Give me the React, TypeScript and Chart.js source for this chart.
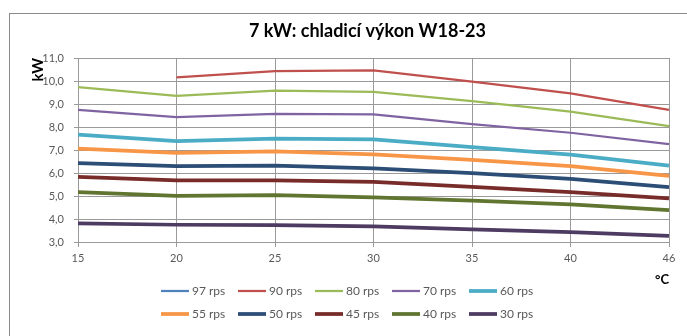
import React, { useEffect, useRef } from 'react';
import { Chart, registerables } from 'chart.js';

Chart.register(...registerables);

// ---- data ----
const categories = ['15', '20', '25', '30', '35', '40', '46'];
const seriesLabels = ['97 rps', '90 rps', '80 rps', '70 rps', '60 rps', '55 rps', '50 rps', '45 rps', '40 rps', '30 rps'];
const rps97: (number | null)[] = [null, null, null, null, null, null, null];
const rps90: (number | null)[] = [null, 10.16, 10.43, 10.46, 9.97, 9.46, 8.74];
const rps80 = [9.73, 9.35, 9.58, 9.53, 9.13, 8.67, 8.04];
const rps70 = [8.74, 8.43, 8.57, 8.55, 8.13, 7.75, 7.26];
const rps60 = [7.67, 7.39, 7.49, 7.46, 7.12, 6.8, 6.32];
const rps55 = [7.06, 6.88, 6.94, 6.81, 6.57, 6.3, 5.88];
const rps50 = [6.43, 6.3, 6.32, 6.2, 5.99, 5.74, 5.39];
const rps45 = [5.83, 5.68, 5.68, 5.61, 5.4, 5.17, 4.9];
const rps40 = [5.17, 5.01, 5.04, 4.94, 4.8, 4.64, 4.39];
const rps30 = [3.81, 3.75, 3.73, 3.68, 3.55, 3.43, 3.27];
const yMin = 3;
const yMax = 11;
const yStep = 1;
const titleText = '7 kW: chladicí výkon W18-23';
const yTitle = 'kW';
const xTitle = '°C';

// ---- styles ----
const seriesValues = [rps97, rps90, rps80, rps70, rps60, rps55, rps50, rps45, rps40, rps30];
const seriesColors = ['#4F81BD', '#C0504D', '#9BBB59', '#8064A2', '#4BACC6', '#F79646', '#2C4D75', '#772C2A', '#5F7530', '#4D3B62'];
const seriesWidths = [2.25, 2.25, 2.25, 2.25, 3.75, 3.75, 3.75, 3.75, 3.75, 3.75];
const FONT = 'Lato, "Open Sans", sans-serif';
const GRID = '#9a9a9a';
const TICK = '#595959';

const framePlugin = {
  id: 'frame',
  beforeDraw(chart: any) {
    const ctx = chart.ctx;
    ctx.save();
    ctx.fillStyle = '#ffffff';
    ctx.fillRect(0, 0, chart.width, chart.height);
    ctx.strokeStyle = '#8a8a8a';
    ctx.lineWidth = 1;
    ctx.strokeRect(9.5, 13.5, chart.width + 50, chart.height + 50);
    ctx.restore();
  },
};

const titleShiftPlugin = {
  id: 'titleShift',
  afterLayout(chart: any) {
    const t = chart.titleBlock;
    if (t) {
      t.left += 28;
      t.right += 28;
    }
  },
};

const rowLegendPlugin = {
  id: 'rowLegend',
  afterDraw(chart: any) {
    const ctx = chart.ctx;
    ctx.save();
    ctx.font = '12px ' + FONT;
    ctx.textBaseline = 'middle';
    ctx.textAlign = 'left';
    chart.data.datasets.forEach((ds: any, i: number) => {
      const col = i % 5;
      const row = Math.floor(i / 5);
      const x = 161 + col * 77;
      const y = 291 + row * 23;
      ctx.strokeStyle = ds.borderColor;
      ctx.lineWidth = ds.borderWidth;
      ctx.lineCap = 'butt';
      ctx.beginPath();
      ctx.moveTo(x, y);
      ctx.lineTo(x + 28, y);
      ctx.stroke();
      ctx.fillStyle = TICK;
      ctx.fillText(ds.label, x + 31, y);
    });
    ctx.restore();
  },
};

export default function App() {
  const canvasRef = useRef<HTMLCanvasElement | null>(null);

  useEffect(() => {
    let chart: Chart | null = null;
    let cancelled = false;
    const make = () => {
      if (cancelled || !canvasRef.current) return;
      chart = new Chart(canvasRef.current, {
        type: 'line',
        data: {
          labels: categories,
          datasets: seriesLabels.map((label, i) => ({
            label,
            data: seriesValues[i],
            borderColor: seriesColors[i],
            backgroundColor: seriesColors[i],
            borderWidth: seriesWidths[i],
            pointRadius: 0,
            pointHoverRadius: 0,
            tension: 0,
            fill: false,
            spanGaps: false,
            order: seriesLabels.length - i,
          })),
        },
        options: {
          responsive: false,
          animation: false,
          events: [],
          layout: { padding: { left: 10, right: 18, top: 0, bottom: 48 } },
          plugins: {
            legend: { display: false },
            tooltip: { enabled: false },
            title: {
              display: true,
              text: titleText,
              color: '#000000',
              font: { family: FONT, size: 18, weight: 'bold' },
              padding: { top: 20.2, bottom: 16.2 },
            },
          },
          scales: {
            x: {
              type: 'category',
              offset: false,
              grid: { color: GRID, lineWidth: 1, tickLength: 5, drawTicks: true },
              border: { color: GRID },
              ticks: { color: TICK, font: { family: FONT, size: 11 }, padding: 5, maxRotation: 0, autoSkip: false },
              title: {
                display: true,
                text: xTitle,
                align: 'end',
                color: '#000000',
                font: { family: FONT, size: 13, weight: 'bold' },
                padding: { top: 0, bottom: 0 },
              },
              afterFit: (s: any) => {
                s.height = 46;
              },
            },
            y: {
              min: yMin,
              max: yMax,
              grid: { color: GRID, lineWidth: 1, tickLength: 4, drawTicks: true },
              border: { color: GRID },
              ticks: {
                stepSize: yStep,
                color: TICK,
                font: { family: FONT, size: 11 },
                padding: 10,
                callback: (v: any) => Number(v).toFixed(1).replace('.', ','),
              },
              title: {
                display: true,
                text: yTitle,
                align: 'end',
                color: '#000000',
                font: { family: FONT, size: 15, weight: 'bold' },
                padding: { top: 19, bottom: 0 },
              },
              afterFit: (s: any) => {
                s.width = 68;
              },
            },
          },
        },
        plugins: [framePlugin, titleShiftPlugin, rowLegendPlugin],
      } as any);
    };
    const fontsApi = (document as any).fonts;
    if (fontsApi && fontsApi.load) {
      Promise.all([
        fontsApi.load('12px Lato'),
        fontsApi.load('bold 16px Lato'),
      ]).then(make, make);
    } else {
      make();
    }
    return () => {
      cancelled = true;
      if (chart) chart.destroy();
    };
  }, []);

  return (
    <div style={{ position: 'absolute', left: 0, top: 0, width: 687, height: 336, overflow: 'hidden', background: '#fff' }}>
      <canvas ref={canvasRef} width={687} height={336} style={{ display: 'block' }} />
    </div>
  );
}
